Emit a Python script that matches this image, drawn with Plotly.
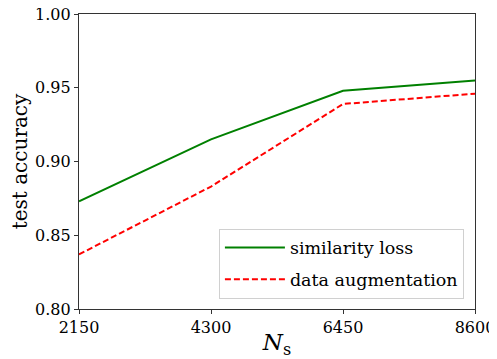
import plotly.graph_objects as go

ns = [2150, 4300, 6450, 8600]
similarity_loss = [0.873, 0.915, 0.948, 0.955]
data_augmentation = [0.837, 0.883, 0.939, 0.946]
y_ticks = [0.80, 0.85, 0.90, 0.95, 1.00]

FONT = "'DejaVu Serif', 'Liberation Serif', serif"

fig = go.Figure()
fig.add_trace(go.Scatter(x=ns, y=similarity_loss, mode="lines", name="similarity loss",
                         legendgroup="a", line=dict(color="green", width=2)))
fig.add_trace(go.Scatter(x=ns, y=data_augmentation, mode="lines", name="data augmentation",
                         legendgroup="b", line=dict(color="red", width=2, dash="6px,3px")))

# page body adds an 8px offset, so the figure is 8px smaller and left/top margins shifted
fig.update_layout(
    width=489, height=351,
    margin=dict(l=71, r=22, t=6, b=50),
    paper_bgcolor="white", plot_bgcolor="white",
    font=dict(family=FONT, size=16, color="black"),
    legend=dict(x=0.972, y=0.035, xanchor="right", yanchor="bottom",
                bgcolor="white", bordercolor="#d0d0d0", borderwidth=1,
                font=dict(size=17.5), tracegroupgap=6, itemwidth=60),
)
fig.update_xaxes(
    range=[2150, 8600], tickvals=ns, ticktext=[str(v) for v in ns],
    showgrid=False, zeroline=False, showline=True, linecolor="#333333", linewidth=1.3,
    mirror=True, ticks="outside", ticklen=4, tickcolor="#333333", automargin=False,
    ticklabeloverflow="allow",
    title=dict(text="<i>N</i><sub>s</sub>", font=dict(size=23), standoff=2),
)
fig.update_yaxes(
    range=[0.80, 1.00], tickvals=y_ticks, ticktext=[f"{v:.2f}" for v in y_ticks],
    showgrid=False, zeroline=False, showline=True, linecolor="#333333", linewidth=1.3,
    mirror=True, ticks="outside", ticklen=4, tickcolor="#333333", automargin=False,
    ticklabeloverflow="allow",
    title=dict(text="test accuracy", font=dict(size=20), standoff=6),
)

fig.write_html("out.html")
